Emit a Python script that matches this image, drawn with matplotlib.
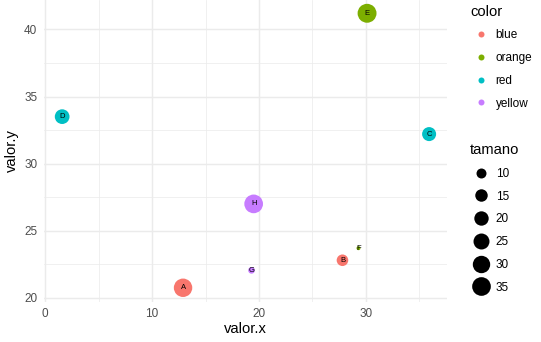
import numpy as np
import matplotlib
matplotlib.use("Agg")
import matplotlib.pyplot as plt
from matplotlib.lines import Line2D

plt.rcParams['font.family'] = ['Liberation Sans', 'DejaVu Sans']

# Datos
etiquetas = ["A", "B", "C", "D", "E", "F", "G", "H"]
valor_x = [12.9, 27.8, 35.9, 1.6, 30.1, 29.3, 19.3, 19.5]
valor_y = [20.75, 22.8, 32.2, 33.5, 41.2, 23.7, 22.05, 27.0]
color = ["blue", "blue", "red", "red", "orange", "orange", "yellow", "yellow"]
tamano = [34, 13, 19, 21, 36, 5, 6, 35]

niveles = ["blue", "orange", "red", "yellow"]
paleta = {"blue": "#F8766D", "orange": "#7CAE00", "red": "#00BFC4", "yellow": "#C77CFF"}
cortes_tamano = [10, 15, 20, 25, 30, 35]

# Escala de tamaño al estilo ggplot (area, rango 1-6 mm)
tmin, tmax = min(tamano), max(tamano)
def diametro(t):
    mm = 1 + 5 * np.sqrt((np.asarray(t, float) - tmin) / (tmax - tmin))
    return (mm * 72.27 / 25.4 + 0.945) * 1.05

W, H = 541, 342
fig = plt.figure(figsize=(W / 72, H / 72), dpi=72)
ax = fig.add_axes([43.7 / W, 1 - 301.6 / H, (447.3 - 43.7) / W, 301.6 / H])

gris = "#EBEBEB"
ax.set_xticks([0, 10, 20, 30])
ax.set_yticks([20, 25, 30, 35, 40])
ax.set_xticks([5, 15, 25, 35], minor=True)
ax.set_yticks([22.5, 27.5, 32.5, 37.5], minor=True)
ax.grid(True, which="major", color=gris, linewidth=1.42)
ax.grid(True, which="minor", color=gris, linewidth=0.71)
ax.set_axisbelow(True)
for s in ax.spines.values():
    s.set_visible(False)
ax.tick_params(which="both", length=0, labelsize=11.7, labelcolor="#4D4D4D")
ax.tick_params(axis="x", pad=6)
ax.tick_params(axis="y", pad=6.5)

cols = [paleta[c] for c in color]
ax.scatter(valor_x, valor_y, s=diametro(tamano) ** 2, c=cols, edgecolors="none", zorder=2)
for lx, ly, lab in zip(valor_x, valor_y, etiquetas):
    ax.text(lx, ly, lab, fontsize=7.6, ha="center", va="center", color="black", zorder=3)

ax.set_xlim(-0.125, 37.6)
ax.set_ylim(19.72, 42.19)
ax.set_xlabel("valor.x", fontsize=14.7, labelpad=2)
ax.set_ylabel("valor.y", fontsize=14.7, labelpad=5)

# Leyendas
h_color = [Line2D([], [], marker="o", linestyle="none", markersize=6,
                  markerfacecolor=paleta[n], markeredgecolor="none") for n in niveles]
leg1 = ax.legend(h_color, niveles, title="color", loc="upper left",
                 bbox_to_anchor=(470 / W, 1 - 4.5 / H), bbox_transform=fig.transFigure,
                 frameon=False, fontsize=11.7, title_fontsize=14.7, alignment="left",
                 borderpad=0, handlelength=1.9, handletextpad=0.3, labelspacing=0.92,
                 borderaxespad=0)
ax.add_artist(leg1)

h_tam = [Line2D([], [], marker="o", linestyle="none", markersize=float(diametro(t)),
                markerfacecolor="black", markeredgecolor="none") for t in cortes_tamano]
leg2 = ax.legend(h_tam, [str(t) for t in cortes_tamano], title="tamano", loc="upper left",
                 bbox_to_anchor=(470 / W, 1 - 143 / H), bbox_transform=fig.transFigure,
                 frameon=False, fontsize=11.7, title_fontsize=14.7, alignment="left",
                 borderpad=0, handlelength=1.9, handletextpad=0.3, labelspacing=0.92,
                 borderaxespad=0)

fig.savefig("out.png", dpi=72)
